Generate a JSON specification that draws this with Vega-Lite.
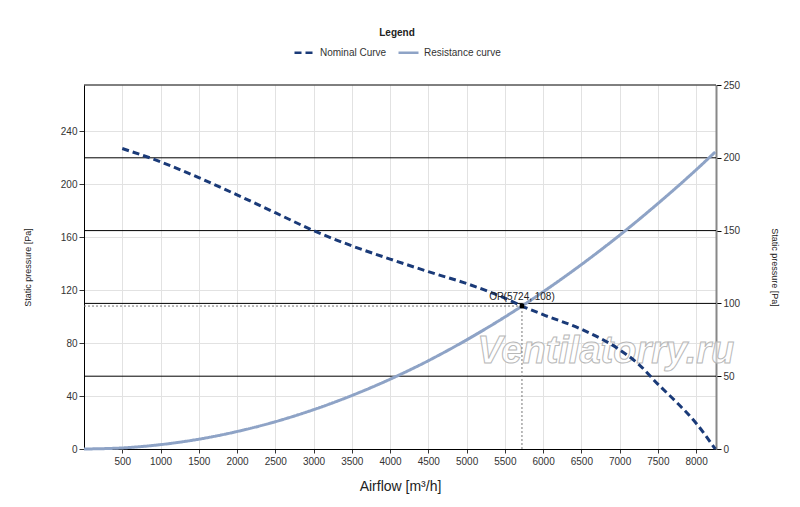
{
  "$schema": "https://vega.github.io/schema/vega-lite/v6.json",
  "width": 632,
  "height": 364,
  "autosize": {"type": "none"},
  "padding": {"left": 84, "top": 85, "right": 84, "bottom": 58},
  "background": "white",
  "config": {
    "font": "Liberation Sans",
    "view": {"stroke": null},
    "axis": {
      "labelFontSize": 10,
      "labelColor": "#333333",
      "tickColor": "#333333",
      "domainColor": "#000000",
      "titleFontWeight": "normal",
      "titleColor": "#222222"
    }
  },
  "datasets": {
    "curves": [
      {"series": "Nominal Curve", "flow": 500, "pressure": 227},
      {"series": "Nominal Curve", "flow": 1000, "pressure": 217},
      {"series": "Nominal Curve", "flow": 1500, "pressure": 205},
      {"series": "Nominal Curve", "flow": 2000, "pressure": 192},
      {"series": "Nominal Curve", "flow": 2500, "pressure": 178.5},
      {"series": "Nominal Curve", "flow": 3000, "pressure": 165},
      {"series": "Nominal Curve", "flow": 3500, "pressure": 153.5},
      {"series": "Nominal Curve", "flow": 4000, "pressure": 143.5},
      {"series": "Nominal Curve", "flow": 4500, "pressure": 134},
      {"series": "Nominal Curve", "flow": 5000, "pressure": 125},
      {"series": "Nominal Curve", "flow": 5500, "pressure": 114},
      {"series": "Nominal Curve", "flow": 5724, "pressure": 108},
      {"series": "Nominal Curve", "flow": 6000, "pressure": 101.5},
      {"series": "Nominal Curve", "flow": 6500, "pressure": 90.5},
      {"series": "Nominal Curve", "flow": 7000, "pressure": 75},
      {"series": "Nominal Curve", "flow": 7250, "pressure": 64},
      {"series": "Nominal Curve", "flow": 7500, "pressure": 49},
      {"series": "Nominal Curve", "flow": 7750, "pressure": 35},
      {"series": "Nominal Curve", "flow": 8000, "pressure": 19.5},
      {"series": "Nominal Curve", "flow": 8250, "pressure": 0},
      {"series": "Resistance curve", "flow": 0, "pressure": 0},
      {"series": "Resistance curve", "flow": 500, "pressure": 0.8},
      {"series": "Resistance curve", "flow": 1000, "pressure": 3.3},
      {"series": "Resistance curve", "flow": 1500, "pressure": 7.4},
      {"series": "Resistance curve", "flow": 2000, "pressure": 13.2},
      {"series": "Resistance curve", "flow": 2500, "pressure": 20.6},
      {"series": "Resistance curve", "flow": 3000, "pressure": 29.7},
      {"series": "Resistance curve", "flow": 3500, "pressure": 40.4},
      {"series": "Resistance curve", "flow": 4000, "pressure": 52.7},
      {"series": "Resistance curve", "flow": 4500, "pressure": 66.7},
      {"series": "Resistance curve", "flow": 5000, "pressure": 82.4},
      {"series": "Resistance curve", "flow": 5500, "pressure": 99.7},
      {"series": "Resistance curve", "flow": 5724, "pressure": 108},
      {"series": "Resistance curve", "flow": 6000, "pressure": 118.7},
      {"series": "Resistance curve", "flow": 6500, "pressure": 139.3},
      {"series": "Resistance curve", "flow": 7000, "pressure": 161.5},
      {"series": "Resistance curve", "flow": 7500, "pressure": 185.4},
      {"series": "Resistance curve", "flow": 8000, "pressure": 210.9},
      {"series": "Resistance curve", "flow": 8250, "pressure": 224.4}
    ],
    "rightLevels": [
      {"level": 50},
      {"level": 100},
      {"level": 150},
      {"level": 200},
      {"level": 250}
    ],
    "guides": [
      {"flow": 0, "flow2": 5724, "pressure": 108, "pressure2": 108},
      {"flow": 5724, "flow2": 5724, "pressure": 0, "pressure2": 108}
    ],
    "op": [
      {"flow": 5724, "pressure": 108, "label": "OP(5724, 108)"}
    ],
    "watermark": [
      {"flow": 6820, "pressure": 73, "label": "Ventilatorry.ru"}
    ]
  },
  "layer": [
    {
      "data": {"name": "rightLevels"},
      "mark": {"type": "rule", "color": "#000000", "strokeWidth": 1},
      "encoding": {
        "y": {
          "field": "level",
          "type": "quantitative",
          "scale": {"domain": [0, 250], "nice": false},
          "axis": {
            "orient": "right",
            "values": [0, 50, 100, 150, 200, 250],
            "grid": false,
            "title": "Static pressure [Pa]",
            "titleFontSize": 9,
            "titlePadding": 30,
            "tickSize": 5,
            "tickColor": "#000000",
            "domainColor": "#888888",
            "domainWidth": 2
          }
        }
      }
    },
    {
      "layer": [
        {
          "data": {"name": "watermark"},
          "mark": {
            "type": "text",
            "fontSize": 38,
            "fontStyle": "italic",
            "fontWeight": "bold",
            "font": "Liberation Sans",
            "fill": "#ffffff",
            "fillOpacity": 0.5,
            "stroke": "#b8b8b8",
            "strokeWidth": 1,
            "baseline": "middle",
            "align": "center"
          },
          "encoding": {
            "x": {
              "field": "flow",
              "type": "quantitative",
              "scale": {"domain": [0, 8260], "nice": false},
              "axis": {
                "values": [500, 1000, 1500, 2000, 2500, 3000, 3500, 4000, 4500, 5000, 5500, 6000, 6500, 7000, 7500, 8000],
                "format": "d",
                "grid": true,
                "gridColor": "#e2e2e2",
                "title": "Airflow [m³/h]",
                "titleFontSize": 14,
                "titlePadding": 13,
                "tickSize": 4,
                "labelPadding": 3
              }
            },
            "y": {
              "field": "pressure",
              "type": "quantitative",
              "scale": {"domain": [0, 275], "nice": false},
              "axis": {
                "orient": "left",
                "values": [0, 40, 80, 120, 160, 200, 240],
                "grid": true,
                "gridColor": "#e2e2e2",
                "title": "Static pressure [Pa]",
                "titleFontSize": 9,
                "titlePadding": 28,
                "tickSize": 5
              }
            },
            "text": {"field": "label"}
          }
        },
        {
          "data": {"name": "guides"},
          "mark": {"type": "rule", "color": "#777777", "strokeWidth": 1, "strokeDash": [2, 2]},
          "encoding": {
            "x": {"field": "flow", "type": "quantitative"},
            "x2": {"field": "flow2"},
            "y": {"field": "pressure", "type": "quantitative"},
            "y2": {"field": "pressure2"}
          }
        },
        {
          "data": {"name": "curves"},
          "mark": {"type": "line", "strokeWidth": 3, "interpolate": "monotone"},
          "encoding": {
            "x": {"field": "flow", "type": "quantitative"},
            "y": {"field": "pressure", "type": "quantitative"},
            "color": {
              "field": "series",
              "type": "nominal",
              "scale": {"domain": ["Nominal Curve", "Resistance curve"], "range": ["#1a3a78", "#8ea3c6"]},
              "legend": {
                "title": "Legend",
                "orient": "none",
                "legendX": 209,
                "legendY": -57,
                "direction": "horizontal",
                "titleAnchor": "middle",
                "titlePadding": 3,
                "titleFontSize": 10,
                "titleFontWeight": "bold",
                "titleColor": "#222222",
                "labelFontSize": 10,
                "labelColor": "#333333",
                "symbolType": "stroke",
                "symbolSize": 400,
                "symbolStrokeWidth": 2.5,
                "columnPadding": 6
              }
            },
            "strokeDash": {
              "field": "series",
              "type": "nominal",
              "scale": {"domain": ["Nominal Curve", "Resistance curve"], "range": [[7, 4], [1, 0]]},
              "legend": {
                "title": "Legend",
                "orient": "none",
                "legendX": 209,
                "legendY": -57,
                "direction": "horizontal",
                "titleAnchor": "middle",
                "titlePadding": 3,
                "titleFontSize": 10,
                "titleFontWeight": "bold",
                "titleColor": "#222222",
                "labelFontSize": 10,
                "labelColor": "#333333",
                "symbolType": "stroke",
                "symbolSize": 400,
                "symbolStrokeWidth": 2.5,
                "columnPadding": 6
              }
            }
          }
        },
        {
          "data": {"name": "op"},
          "mark": {"type": "square", "color": "#000000", "size": 20, "opacity": 1},
          "encoding": {
            "x": {"field": "flow", "type": "quantitative"},
            "y": {"field": "pressure", "type": "quantitative"}
          }
        },
        {
          "data": {"name": "op"},
          "mark": {"type": "text", "fontSize": 10, "color": "#222222", "baseline": "bottom", "align": "center", "dy": -4},
          "encoding": {
            "x": {"field": "flow", "type": "quantitative"},
            "y": {"field": "pressure", "type": "quantitative"},
            "text": {"field": "label"}
          }
        }
      ]
    }
  ],
  "resolve": {"scale": {"y": "independent"}}
}
